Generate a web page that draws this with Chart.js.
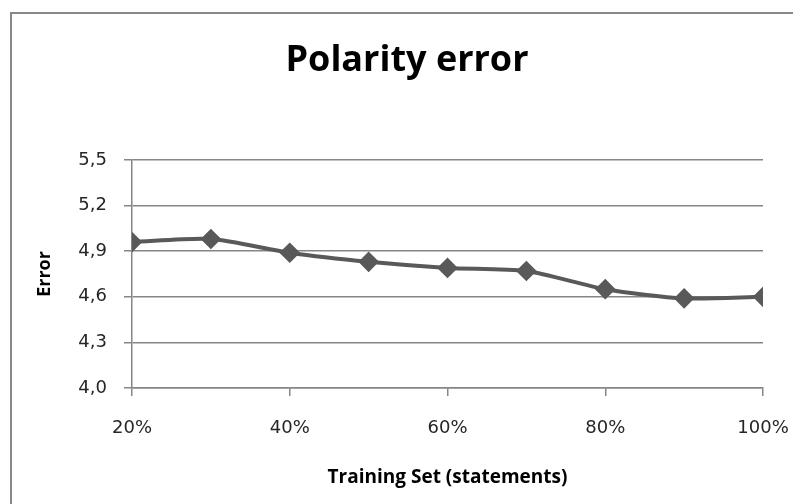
<!DOCTYPE html>
<html>
<head>
<meta charset="utf-8">
<script src="https://cdn.jsdelivr.net/npm/chart.js@4"></script>
<style>
  html, body { margin: 0; padding: 0; background: #fff; }
  #wrap { position: relative; width: 793px; height: 504px; overflow: hidden; }
  #frame { position: absolute; left: 10px; top: 12px; width: 900px; height: 600px;
           border-left: 2px solid #888; border-top: 2px solid #888; }
  canvas { position: absolute; left: 0; top: 0; }
</style>
</head>
<body>
<div id="wrap">
  <div id="frame"></div>
  <canvas id="chart" width="793" height="504"></canvas>
</div>
<script>
const trainingSet = [20, 30, 40, 50, 60, 70, 80, 90, 100];
const polarityError = [4.96, 4.98, 4.89, 4.83, 4.79, 4.77, 4.65, 4.59, 4.60];
const xTicks = [20, 40, 60, 80, 100];
const yTicks = [4.0, 4.3, 4.6, 4.9, 5.2, 5.5];

const titleFont = "'Open Sans', sans-serif";
const tickFont = "'DejaVu Sans', sans-serif";
const lineColor = '#595959';

new Chart(document.getElementById('chart'), {
  type: 'line',
  data: {
    datasets: [{
      label: 'Polarity error',
      data: trainingSet.map((x, i) => ({ x, y: polarityError[i] })),
      borderColor: lineColor,
      backgroundColor: lineColor,
      borderWidth: 4,
      pointStyle: 'rectRot',
      pointRadius: 7.5,
      pointHoverRadius: 7.5,
      tension: 0.25
    }]
  },
  options: {
    responsive: false,
    animation: false,
    layout: { padding: { left: 21, right: 0, top: 0, bottom: 10 } },
    plugins: {
      legend: { display: false },
      tooltip: { enabled: false },
      title: {
        display: true,
        text: 'Polarity error',
        color: '#000',
        font: { family: titleFont, size: 36, weight: 'bold' },
        padding: { top: 39, bottom: 77.8 }
      }
    },
    scales: {
      x: {
        type: 'linear',
        min: 20,
        max: 100,
        afterBuildTicks: (scale) => { scale.ticks = xTicks.map(v => ({ value: v })); },
        afterFit: (scale) => {
          scale.height = 106;
          scale.paddingLeft = 0;
          scale.paddingRight = 30;
        },
        ticks: {
          color: '#262626',
          padding: 22,
          font: { family: tickFont, size: 18 },
          callback: (v) => v + '%'
        },
        grid: { drawOnChartArea: false, color: '#868686', lineWidth: 1.5, tickLength: 8 },
        border: { color: '#868686', width: 1.5 },
        title: {
          display: true,
          text: 'Training Set (statements)',
          color: '#000',
          font: { family: titleFont, size: 19, weight: 'bold' },
          padding: { top: 0, bottom: 5 }
        }
      },
      y: {
        min: 4.0,
        max: 5.5,
        afterBuildTicks: (scale) => { scale.ticks = yTicks.map(v => ({ value: v })); },
        afterFit: (scale) => { scale.width = 111; },
        ticks: {
          color: '#262626',
          padding: 17,
          font: { family: tickFont, size: 18 },
          callback: (v) => v.toFixed(1).replace('.', ',')
        },
        grid: { color: '#868686', lineWidth: 1.5, tickLength: 8 },
        border: { color: '#868686', width: 1.5 },
        title: {
          display: true,
          text: 'Error',
          color: '#000',
          font: { family: titleFont, size: 18, weight: 'bold' },
          padding: { top: 13, bottom: 0 }
        }
      }
    }
  }
});
</script>
</body>
</html>
